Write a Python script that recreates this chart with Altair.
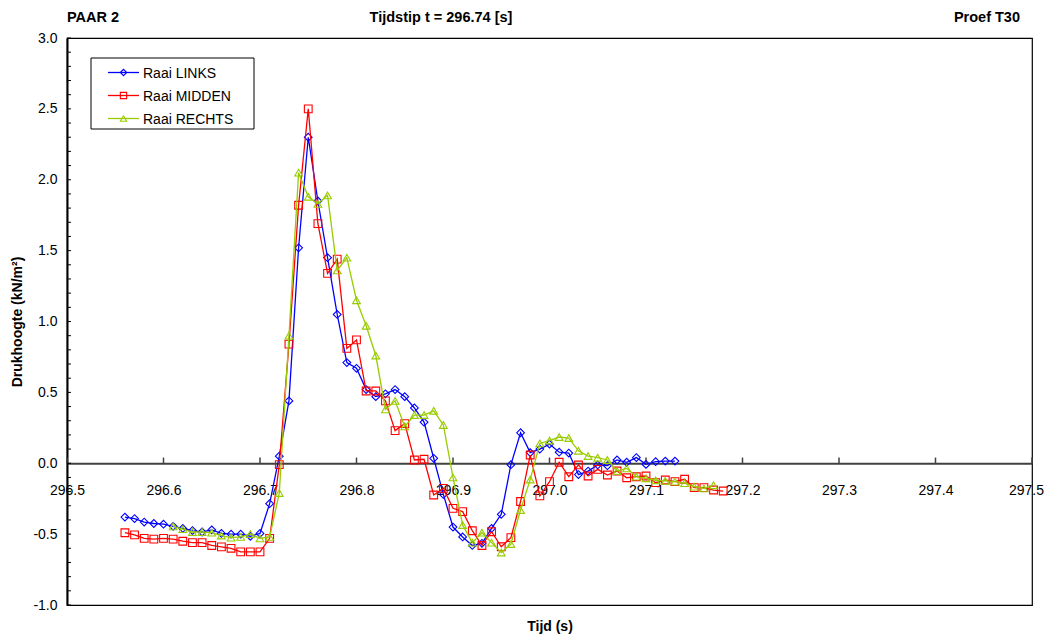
import altair as alt
import pandas as pd

FONT = "Liberation Sans"

names = ["Raai LINKS", "Raai MIDDEN", "Raai RECHTS"]
colors = ["#0000FF", "#FF0000", "#99CC00"]
shapes = ["diamond", "square", "triangle-up"]

# start time of each series, samples every 0.01 s
t0_links = 296.56
links = [-0.38, -0.39, -0.415, -0.425, -0.43, -0.445, -0.46, -0.475, -0.485, -0.47,
         -0.495, -0.50, -0.50, -0.515, -0.495, -0.285,
         0.05, 0.44, 1.52, 2.30, 1.85, 1.45, 1.05, 0.71, 0.67, 0.52, 0.47, 0.49, 0.52,
         0.47, 0.39, 0.29, 0.035, -0.22, -0.45, -0.52, -0.58, -0.565, -0.46, -0.36,
         -0.01, 0.215, 0.075, 0.10,
         0.135, 0.078, 0.072, -0.08, -0.055, -0.012, -0.017, 0.023, 0.007, 0.04,
         -0.008, 0.011, 0.015, 0.015]

t0_midden = 296.56
midden = [-0.49, -0.505, -0.53, -0.535, -0.53, -0.535, -0.55, -0.56, -0.56, -0.58,
          -0.59, -0.60, -0.625, -0.625, -0.625, -0.53,
          -0.01, 0.84, 1.82, 2.50, 1.69, 1.34, 1.44, 0.81, 0.87, 0.51, 0.51, 0.44, 0.23,
          0.28, 0.023, 0.028,
          -0.224, -0.177, -0.318, -0.341, -0.476, -0.58, -0.483, -0.589, -0.525, -0.27,
          0.058, -0.23,
          -0.13, 0.007, -0.095, -0.012, -0.09, -0.043, -0.083, -0.055, -0.102, -0.095,
          -0.09, -0.137, -0.118, -0.13, -0.113, -0.172, -0.172, -0.189, -0.196]

t0_rechts = 296.61
rechts = [-0.445, -0.465, -0.485, -0.485, -0.49, -0.51, -0.525, -0.52, -0.50, -0.53, -0.52,
          -0.21, 0.90, 2.05, 1.88, 1.83, 1.89, 1.36, 1.45, 1.15, 0.97, 0.76, 0.38, 0.44,
          0.26, 0.34, 0.34,
          0.37, 0.27, -0.10, -0.436, -0.56, -0.49, -0.56, -0.63, -0.57, -0.33, -0.115, 0.14,
          0.16, 0.185, 0.178, 0.088, 0.051, 0.039, 0.023, -0.055, -0.036, -0.095, -0.106,
          -0.12, -0.125, -0.13, -0.14, -0.165, -0.177, -0.155]

x_ticks = [296.5, 296.6, 296.7, 296.8, 296.9, 297.0, 297.1, 297.2, 297.3, 297.4, 297.5]
y_labels = [-1.0, -0.5, 0.0, 0.5, 1.0, 1.5, 2.0, 2.5, 3.0]
y_minor = [round(-1.0 + 0.1 * i, 1) for i in range(41)]

header_left = "PAAR 2"
header_mid = "Tijdstip t = 296.74 [s]"
header_right = "Proef T30"

W, H = 965, 567
XMIN, XMAX = 296.5, 297.5
YMIN, YMAX = -1.0, 3.0

xs = alt.Scale(domain=[XMIN, XMAX], nice=False, zero=False)
ys = alt.Scale(domain=[YMIN, YMAX], nice=False, zero=False)

fix_minus = "replace(format(datum.value, '.1f'), '\u2212', '-')"

xax = alt.Axis(values=x_ticks, labelExpr=fix_minus, title="Tijd (s)", ticks=False,
               grid=False, domainColor="#404040", domainWidth=2,
               offset=-(H * (0 - YMIN) / (YMAX - YMIN)), labelPadding=20,
               labelFontSize=14, labelFont=FONT, labelColor="black",
               labelFlush=False, labelOverlap=False, labelBound=False,
               labelOffset={"condition": {"test": "datum.value > 297.45", "value": -6},
                            "value": 0},
               titleFont=FONT, titleFontSize=14, titleFontWeight="bold",
               titleColor="black", titleY=167, titleBaseline="alphabetic")
yax = alt.Axis(values=y_labels, labelExpr=fix_minus, title="Drukhoogte (kN/m²)",
               ticks=False, grid=False, domainColor="black", domainWidth=2,
               labelPadding=10, labelFontSize=14, labelFont=FONT, labelColor="black",
               labelFlush=False, labelOverlap=False,
               titleFont=FONT, titleFontSize=14, titleFontWeight="bold",
               titleColor="black", titleX=-50, titleY=H / 2, titleAngle=-90,
               titleAlign="center", titleBaseline="middle")


def series_df(t0, vals, name):
    return pd.DataFrame({"Tijd": [round(t0 + 0.01 * i, 2) for i in range(len(vals))],
                         "Druk": vals, "serie": name})


layers = []

# x-axis tick marks on the zero line (pointing up)
tick_df = pd.DataFrame({"Tijd": x_ticks})
layers.append(alt.Chart(tick_df).mark_rule(color="#404040", strokeWidth=1.5).encode(
    x=alt.X("Tijd:Q", scale=xs, axis=xax),
    y=alt.datum(0.0),
    y2=alt.datum(0.04),
))

# y-axis minor ticks inside the plot
ytick_df = pd.DataFrame({"Druk": y_minor})
layers.append(alt.Chart(ytick_df).mark_rule(color="black", strokeWidth=1).encode(
    y=alt.Y("Druk:Q", scale=ys, axis=yax),
    x=alt.value(0),
    x2=alt.value(4),
))

for (t0, vals), name, col, shp in zip(
        [(t0_links, links), (t0_midden, midden), (t0_rechts, rechts)], names, colors, shapes):
    df = series_df(t0, vals, name)
    base = alt.Chart(df).encode(
        x=alt.X("Tijd:Q", scale=xs, axis=xax),
        y=alt.Y("Druk:Q", scale=ys, axis=yax),
    )
    layers.append(base.mark_line(color=col, strokeWidth=1.3))
    layers.append(base.mark_point(color=col, shape=shp, filled=False, size=60,
                                  strokeWidth=1.1, opacity=1))

# legend box
one = pd.DataFrame({"k": [0]})
layers.append(alt.Chart(one).mark_rect(fill="white", stroke="black", strokeWidth=1).encode(
    x=alt.value(24), x2=alt.value(187), y=alt.value(20), y2=alt.value(91)))

for i, (name, col, shp) in enumerate(zip(names, colors, shapes)):
    ly = 34.5 + 23 * i
    ldf = pd.DataFrame({"serie": [name]})
    layers.append(alt.Chart(ldf).mark_rule(color=col, strokeWidth=1.3).encode(
        x=alt.value(41), x2=alt.value(72), y=alt.value(ly)))
    layers.append(alt.Chart(ldf).mark_point(color=col, shape=shp, filled=False, size=40,
                                            strokeWidth=1.1, opacity=1).encode(
        x=alt.value(56.5), y=alt.value(ly)))
    layers.append(alt.Chart(ldf).mark_text(align="left", baseline="middle", font=FONT,
                                           fontSize=14, color="black").encode(
        x=alt.value(76), y=alt.value(ly + 1), text="serie:N"))

# header texts
for txt, xpos, al in [(header_left, 0, "left"), (header_mid, 374, "center"),
                      (header_right, 953, "right")]:
    hdf = pd.DataFrame({"txt": [txt]})
    layers.append(alt.Chart(hdf).mark_text(align=al, baseline="middle", font=FONT,
                                           fontSize=14.5, fontWeight="bold",
                                           color="black").encode(
        x=alt.value(xpos), y=alt.value(-20), text="txt:N"))

chart = alt.layer(*layers).properties(
    width=W, height=H,
    autosize=alt.AutoSizeParams(type="none"),
    padding={"left": 59, "top": 30, "right": 14, "bottom": 29},
    background="white",
).configure_view(stroke="black", strokeWidth=1.2)

chart.save("out.html", embed_options={"renderer": "svg", "actions": False})
